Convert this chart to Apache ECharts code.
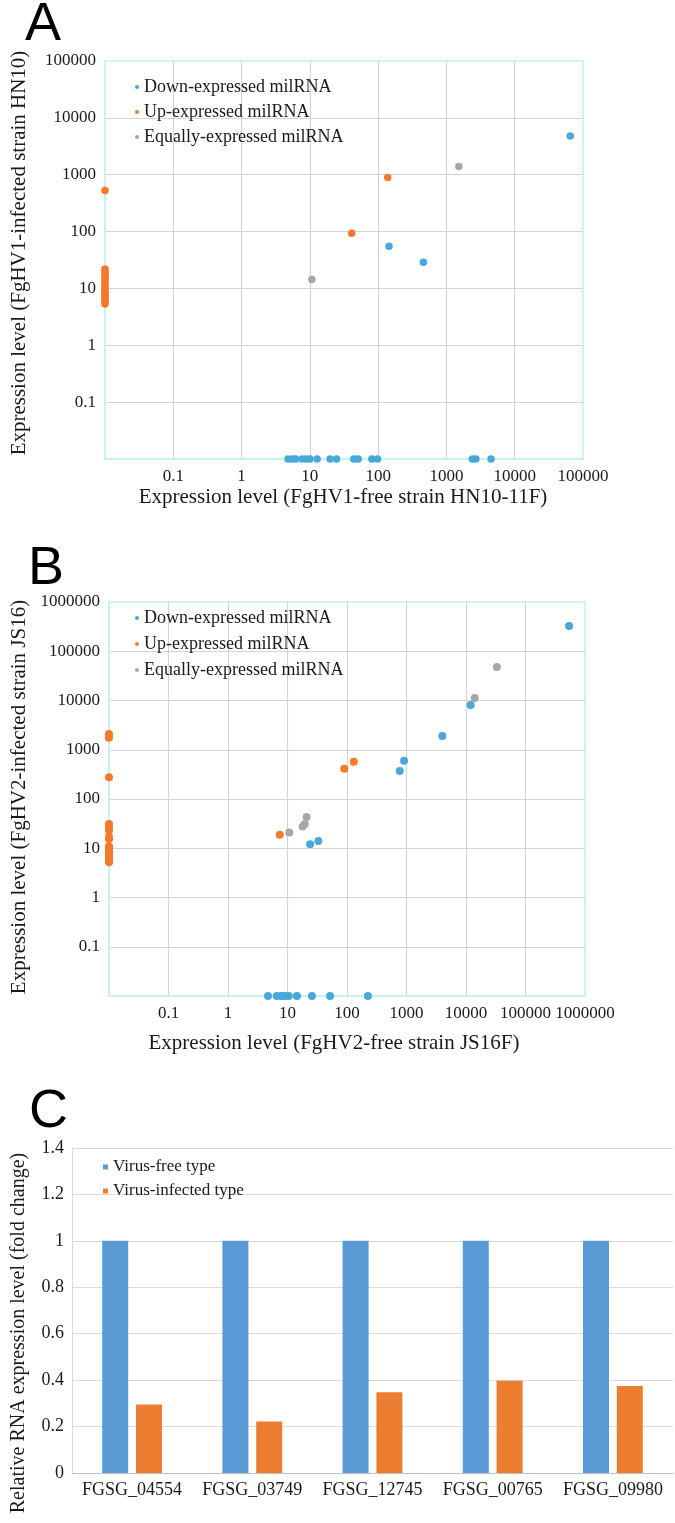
<!DOCTYPE html>
<html>
<head>
<meta charset="utf-8">
<script src="https://cdn.jsdelivr.net/npm/echarts@6/dist/echarts.min.js"></script>
<style>
html,body{margin:0;padding:0;background:#fff;}
#chart{width:675px;height:1523px;}
</style>
</head>
<body>
<div id="chart"></div>
<script>
// ---------- Panel A data: [free strain HN10-11F, infected strain HN10] ----------
const aDown = [
  [65000, 4800], [144, 55], [460, 29],
  [4.8, 0.01], [5.6, 0.01], [6.2, 0.01], [7.7, 0.01], [8.8, 0.01], [10, 0.01], [12.8, 0.01],
  [19.8, 0.01], [24.6, 0.01], [44, 0.01], [51, 0.01], [81, 0.01], [98, 0.01],
  [2400, 0.01], [2700, 0.01], [4500, 0.01]
];
const aUp = [
  [138, 890], [41, 93], [0.01, 530],
  [0.01, 22], [0.01, 20], [0.01, 18], [0.01, 16.5], [0.01, 15], [0.01, 13.5], [0.01, 12],
  [0.01, 11], [0.01, 10], [0.01, 9.2], [0.01, 8.4], [0.01, 7.7], [0.01, 7], [0.01, 6.4],
  [0.01, 5.8], [0.01, 5.3]
];
const aEqual = [[10.7, 14.3], [1520, 1400]];

// ---------- Panel B data: [free strain JS16F, infected strain JS16] ----------
const bDown = [
  [540000, 325000], [12000, 8100], [4000, 1900], [910, 600], [770, 370], [33, 14], [24, 12],
  [4.7, 0.01], [6.6, 0.01], [7.8, 0.01], [8.5, 0.01], [9.2, 0.01], [10.5, 0.01], [14.4, 0.01],
  [25.7, 0.01], [52, 0.01], [225, 0.01]
];
const bUp = [
  [130, 570], [90, 410], [7.4, 18.8],
  [0.01, 2100], [0.01, 1750], [0.01, 277],
  [0.01, 31], [0.01, 26], [0.01, 23], [0.01, 17], [0.01, 15.5], [0.01, 11], [0.01, 10],
  [0.01, 9], [0.01, 8.3], [0.01, 7.6], [0.01, 7], [0.01, 6.3], [0.01, 5.7], [0.01, 5.2]
];
const bEqual = [[33000, 48000], [14000, 11300], [21, 43], [19.5, 31], [18, 27.5], [10.7, 21]];

// ---------- Panel C data ----------
const cCategories = ['FGSG_04554', 'FGSG_03749', 'FGSG_12745', 'FGSG_00765', 'FGSG_09980'];
const cVirusFree = [1, 1, 1, 1, 1];
const cVirusInfected = [0.295, 0.222, 0.348, 0.397, 0.375];

const seriesNames = ['Down-expressed milRNA', 'Up-expressed milRNA', 'Equally-expressed milRNA'];
const cNames = ['Virus-free type', 'Virus-infected type'];

const SERIF = '"Liberation Serif", "Times New Roman", serif';
const SANS = '"Liberation Sans", Arial, sans-serif';
const BLUE = '#48a8d8', ORANGE = '#f4792b', GRAY = '#a6a6a6';
const BORDER = '#c4f1f4', GRID = '#d4d4d4', TXT = '#1a1a1a';

function logFmt(v) { return String(Number(Number(v).toPrecision(6))); }

function logAxis(gridIndex, max, split) {
  return {
    type: 'log', logBase: 10, gridIndex: gridIndex, min: 0.01, max: max, splitNumber: split,
    axisLine: { show: true, lineStyle: { color: BORDER, width: 1.5 } },
    axisTick: { show: false },
    axisLabel: { showMinLabel: false, formatter: logFmt, color: TXT, fontFamily: SERIF, fontSize: 17, margin: 9 },
    splitLine: { show: true, showMinLine: false, showMaxLine: false, lineStyle: { color: GRID, width: 1.2 } },
    minorTick: { show: false }
  };
}

function scatter(name, data, color, xi, size) {
  return {
    type: 'scatter', name: name, data: data, xAxisIndex: xi, yAxisIndex: xi,
    symbolSize: size, clip: false, itemStyle: { color: color, opacity: 1 },
    emphasis: { disabled: true }
  };
}

function scatterLegend(top, gap) {
  return {
    orient: 'vertical', left: 130, top: top, itemWidth: 4, itemHeight: 4, itemGap: gap,
    itemTextGap: 5, icon: 'circle', data: seriesNames,
    textStyle: { fontFamily: SERIF, fontSize: 18, color: TXT, lineHeight: 20 }
  };
}

function titleText(text, x, y, rot, size) {
  return {
    type: 'text', x: x, y: y, rotation: rot || 0,
    style: { text: text, fontFamily: SERIF, fontSize: size || 21, fill: TXT, align: 'center', verticalAlign: 'middle' }
  };
}
function panelLetter(text, x, y) {
  return {
    type: 'text', x: x, y: y,
    style: { text: text, fontFamily: SANS, fontSize: 54, fill: '#000', align: 'left', verticalAlign: 'middle' }
  };
}

const chart = echarts.init(document.getElementById('chart'), null, { renderer: 'canvas' });

chart.setOption({
  animation: false,
  backgroundColor: '#fff',
  grid: [
    { left: 105, top: 61, width: 478, height: 398, show: true, borderColor: BORDER, borderWidth: 1.5, backgroundColor: 'transparent' },
    { left: 109, top: 602, width: 476, height: 394, show: true, borderColor: BORDER, borderWidth: 1.5, backgroundColor: 'transparent' },
    { left: 72, top: 1148, width: 601, height: 325 }
  ],
  xAxis: [
    logAxis(0, 100000, 7),
    logAxis(1, 1000000, 8),
    {
      type: 'category', gridIndex: 2, data: cCategories,
      axisLine: { show: true, lineStyle: { color: '#bfbfbf', width: 1.2 } },
      axisTick: { show: false },
      axisLabel: { interval: 0, color: TXT, fontFamily: SERIF, fontSize: 18, margin: 8 },
      splitLine: { show: false }
    }
  ],
  yAxis: [
    logAxis(0, 100000, 7),
    logAxis(1, 1000000, 8),
    {
      type: 'value', gridIndex: 2, min: 0, max: 1.4, interval: 0.2,
      axisLine: { show: true, lineStyle: { color: '#d9d9d9', width: 1 } },
      axisTick: { show: false },
      axisLabel: { color: TXT, fontFamily: SERIF, fontSize: 18, margin: 8,
        formatter: v => String(Number(v.toFixed(1))) },
      splitLine: { show: true, showMinLine: false, lineStyle: { color: '#d9d9d9', width: 1.2 } }
    }
  ],
  legend: [
    scatterLegend(72, 5),
    scatterLegend(603, 6),
    {
      orient: 'vertical', left: 98, top: 1152, itemWidth: 5, itemHeight: 5, itemGap: 4,
      itemTextGap: 4, icon: 'rect', data: cNames,
      textStyle: { fontFamily: SERIF, fontSize: 17, color: TXT, lineHeight: 20 }
    }
  ],
  series: [
    scatter(seriesNames[0], aDown, BLUE, 0, 7.5),
    scatter(seriesNames[1], aUp, ORANGE, 0, 7.5),
    scatter(seriesNames[2], aEqual, GRAY, 0, 7.5),
    scatter(seriesNames[0], bDown, BLUE, 1, 8),
    scatter(seriesNames[1], bUp, ORANGE, 1, 8),
    scatter(seriesNames[2], bEqual, GRAY, 1, 8),
    {
      type: 'bar', name: cNames[0], data: cVirusFree, xAxisIndex: 2, yAxisIndex: 2,
      barWidth: 26, barGap: '30%', itemStyle: { color: '#5b9bd5' }, emphasis: { disabled: true }
    },
    {
      type: 'bar', name: cNames[1], data: cVirusInfected, xAxisIndex: 2, yAxisIndex: 2,
      barWidth: 26, barGap: '30%', itemStyle: { color: '#ed7d31' }, emphasis: { disabled: true }
    }
  ],
  graphic: [
    panelLetter('A', 25, 25),
    panelLetter('B', 28, 569),
    panelLetter('C', 29, 1112),
    titleText('Expression level (FgHV1-infected strain HN10)', 19, 253, Math.PI / 2),
    titleText('Expression level (FgHV1-free strain HN10-11F)', 343, 497, 0),
    titleText('Expression level (FgHV2-infected strain JS16)', 19, 797, Math.PI / 2),
    titleText('Expression level (FgHV2-free strain JS16F)', 334, 1043, 0),
    titleText('Relative RNA expression level (fold change)', 19, 1333, Math.PI / 2, 20)
  ]
});
</script>
</body>
</html>
